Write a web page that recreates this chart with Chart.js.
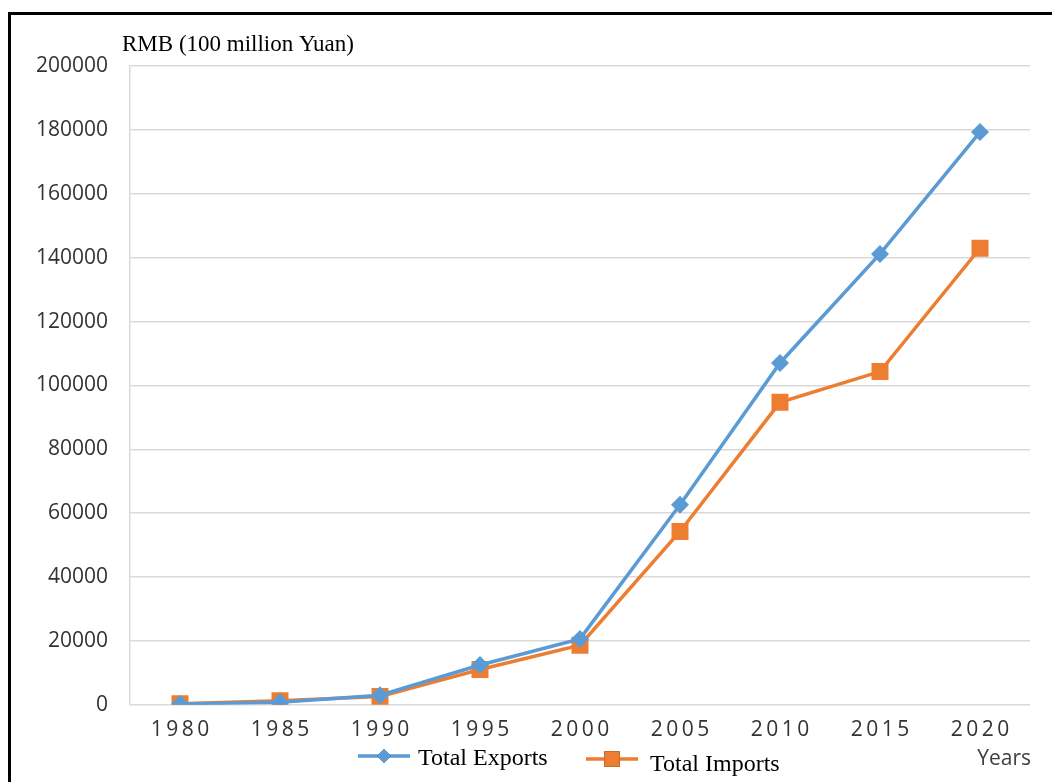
<!DOCTYPE html>
<html>
<head>
<meta charset="utf-8">
<style>
  html, body { margin: 0; padding: 0; background: #fff; overflow: hidden; }
  #frame { position: absolute; left: 8px; top: 12px; width: 1100px; height: 800px;
           border-left: 3px solid #000; border-top: 3px solid #000; }
  #wrap { position: absolute; left: 0; top: 0; width: 1052px; height: 782px; }
</style>
</head>
<body>
<div id="frame"></div>
<div id="wrap"><canvas id="tradeChart"></canvas></div>

<script src="https://cdnjs.cloudflare.com/ajax/libs/Chart.js/4.4.1/chart.umd.js"></script>
<script>
  const years   = ['1980', '1985', '1990', '1995', '2000', '2005', '2010', '2015', '2020'];
  const exports = [271, 809, 2986, 12452, 20634, 62648, 107023, 141167, 179326];
  const imports = [299, 1258, 2574, 11048, 18639, 54274, 94700, 104336, 142936];

  const blue = '#5b9bd5';
  const orange = '#ed7d31';

  // title, axis name and the legend (line + marker + serif label)
  const extras = {
    id: 'extras',
    afterDraw(chart) {
      const c = chart.ctx;
      c.save();
      c.textBaseline = 'middle';
      c.fillStyle = '#000';
      c.font = '23px "Liberation Serif"';
      c.textAlign = 'left';
      c.fillText('RMB (100 million Yuan)', 122, 45);

      c.fillStyle = '#404040';
      c.font = '21px "Open Sans"';
      c.textAlign = 'right';
      c.fillText('Years', 1031, 759);

      const items = [
        { ds: chart.data.datasets[0], x: 358, y: 756, tx: 418, ty: 759 },
        { ds: chart.data.datasets[1], x: 586, y: 759, tx: 650, ty: 765 }
      ];
      items.forEach(it => {
        c.strokeStyle = it.ds.borderColor;
        c.lineWidth = 3.5;
        c.beginPath();
        c.moveTo(it.x, it.y);
        c.lineTo(it.x + 52, it.y);
        c.stroke();
        Chart.helpers.drawPoint(c, {
          pointStyle: it.ds.pointStyle,
          radius: it.ds.pointStyle === 'rect' ? 11 : 7,
          borderWidth: 0
        }, it.x + 26, it.y);
        c.fillStyle = it.ds.backgroundColor;
        c.fill();
        c.fillStyle = '#000';
        c.font = '24px "Liberation Serif"';
        c.textAlign = 'left';
        c.fillText(it.ds.label, it.tx, it.ty);
      });
      c.restore();
    }
  };

  new Chart(document.getElementById('tradeChart'), {
    type: 'line',
    data: {
      labels: years,
      datasets: [
        { label: 'Total Exports', data: exports, borderColor: blue, backgroundColor: blue,
          borderWidth: 3.5, pointStyle: 'rectRot', pointRadius: 9, pointBorderWidth: 0,
          pointBackgroundColor: blue, tension: 0 },
        { label: 'Total Imports', data: imports, borderColor: orange, backgroundColor: orange,
          borderWidth: 3.5, pointStyle: 'rect', pointRadius: 12, pointBorderWidth: 0,
          pointBackgroundColor: orange, tension: 0 }
      ]
    },
    options: {
      responsive: true,
      maintainAspectRatio: false,
      animation: false,
      layout: { padding: { left: 0, right: 22, top: 66, bottom: 26 } },
      scales: {
        x: {
          offset: true,
          grid: { display: false, drawTicks: false },
          border: { display: false },
          ticks: {
            padding: 13,
            color: '#333',
            font: { family: 'Open Sans', size: 21 },
            callback: function(v) { return this.getLabelForValue(v).split('').join('\u2009'); }
          }
        },
        y: {
          min: 0,
          max: 200000,
          afterFit: s => { s.width = 130; },
          grid: { color: '#d9d9d9', lineWidth: 1.5, drawTicks: false },
          border: { display: true, color: '#d9d9d9', width: 1.5 },
          ticks: {
            stepSize: 20000,
            padding: 22,
            color: '#333',
            font: { family: 'Open Sans', size: 21 },
            callback: v => String(v)
          }
        }
      },
      plugins: {
        legend: { display: false },
        tooltip: { enabled: false }
      }
    },
    plugins: [extras]
  });
</script>
</body>
</html>
